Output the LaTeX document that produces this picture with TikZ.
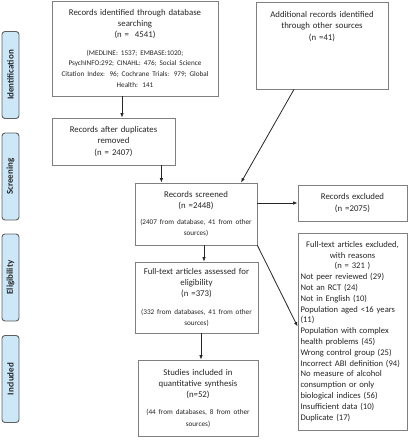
\documentclass[tikz,border=0pt]{standalone}
\usepackage{fontspec}
\setmainfont{Carlito}
\usetikzlibrary{arrows.meta}
\definecolor{phaseblue}{HTML}{CCE7F7}
\definecolor{phaseline}{HTML}{5F5F5F}
\definecolor{boxline}{HTML}{7F7F7F}
\newcommand{\detailfont}{\fontsize{7.2}{10.5}\selectfont}

\begin{document}
\begin{tikzpicture}[x=1pt,y=-1pt,
    flowbox/.style={draw=boxline, line width=0.8pt, fill=white, inner sep=0pt, align=center,
      text=black!85, font=\fontsize{8.8}{11.2}\selectfont},
    phase/.style={draw=phaseline, line width=0.9pt, fill=phaseblue, rounded corners=3pt, rotate=90,
      minimum width=87pt, minimum height=17pt, inner sep=0pt, text=black!85,
      font=\bfseries\fontsize{9}{9}\selectfont},
    arr/.style={-{Latex[length=4.5pt,width=3.5pt]}, line width=0.8pt, black!85}]
    \useasboundingbox (0,0) rectangle (412,440);

    % phase labels
    \node[phase] (idlab) at (10.5,75) {Identification};
    \node[phase] (scrlab) at (10.5,176.5) {Screening};
    \node[phase] (elilab) at (10.5,277.5) {Eligibility};
    \node[phase] (inclab) at (10.5,379) {Included};

    % boxes
    \node[flowbox, minimum width=166pt, minimum height=95pt, text width=164pt] (search) at (135,48.5)
      {Records identified through database\\ searching\\ (n =~~4541)\\[7pt]
       \detailfont (MEDLINE: 1537; EMBASE:1020;\\ PsychINFO:292; CINAHL: 476; Social Science\\
       Citation Index: 96; Cochrane Trials: 979; Global\\ Health: 141};
    \node[flowbox, minimum width=132pt, minimum height=87pt, text width=128pt] (other) at (322,45.5)
      {Additional records identified\\ through other sources\\ (n =41)\\[28pt]\mbox{}};
    \node[flowbox, minimum width=123pt, minimum height=47pt, text width=119pt] (dedup) at (113.5,141.5)
      {Records after duplicates\\ removed\\ (n = 2407)};
    \node[flowbox, minimum width=122pt, minimum height=62pt, text width=118pt] (screened) at (196,214)
      {Records screened\\ (n =2448)\\[5pt]
       \detailfont (2407 from database, 41 from other\\ sources)};
    \node[flowbox, minimum width=109pt, minimum height=36pt, text width=105pt] (excluded) at (352.5,203)
      {Records excluded\\ (n =2075)};
    \node[flowbox, minimum width=123pt, minimum height=71pt, text width=119pt] (fulltext) at (196.5,297.5)
      {Full-text articles assessed for\\ eligibility\\ (n =373)\\[7pt]
       \detailfont (332 from databases, 41 from other\\ sources)};
    \node[flowbox, minimum width=109pt, minimum height=197pt, text width=104pt, align=left,
      font=\fontsize{8.6}{10.8}\selectfont] (ftexcl) at (352.5,331.5)
      {{\centering Full-text articles excluded,\\ with reasons\\ (n = 321~)\par}
       Not peer reviewed (29)\\ Not an RCT (24)\\ Not in English (10)\\
       Population aged <16 years\\ (11)\\ Population with complex\\ health problems (45)\\
       Wrong control group (25)\\ \mbox{Incorrect ABI definition (94)}\\ No measure of alcohol\\
       consumption or only\\ biological indices (56)\\ Insufficient data (10)\\ Duplicate (17)};
    \node[flowbox, minimum width=120pt, minimum height=76pt, text width=116pt] (studies) at (198,398)
      {Studies included in\\ quantitative synthesis\\ (n=52)\\[7pt]
       \detailfont (44 from databases, 8 from other\\ sources)};

    % arrows
    \draw[arr] ([xshift=8.5pt]dedup.north |- search.south) -- ([xshift=8.5pt]dedup.north);
    \draw[arr] ([xshift=-14pt]dedup.south east) -- ([xshift=-14pt]dedup.south east |- screened.north);
    \draw[arr] ([xshift=-28pt]other.south) -- ([xshift=45pt]screened.north);
    \draw[arr] (screened.east |- excluded.west) -- (excluded.west);
    \draw[arr] (screened.south east) -- ([yshift=5pt]ftexcl.west);
    \draw[arr] ([xshift=8pt]screened.south) -- ([xshift=8pt]screened.south |- fulltext.north);
    \draw[arr] ([xshift=4.5pt]fulltext.south) -- ([xshift=4.5pt]fulltext.south |- studies.north);
\end{tikzpicture}
\end{document}
